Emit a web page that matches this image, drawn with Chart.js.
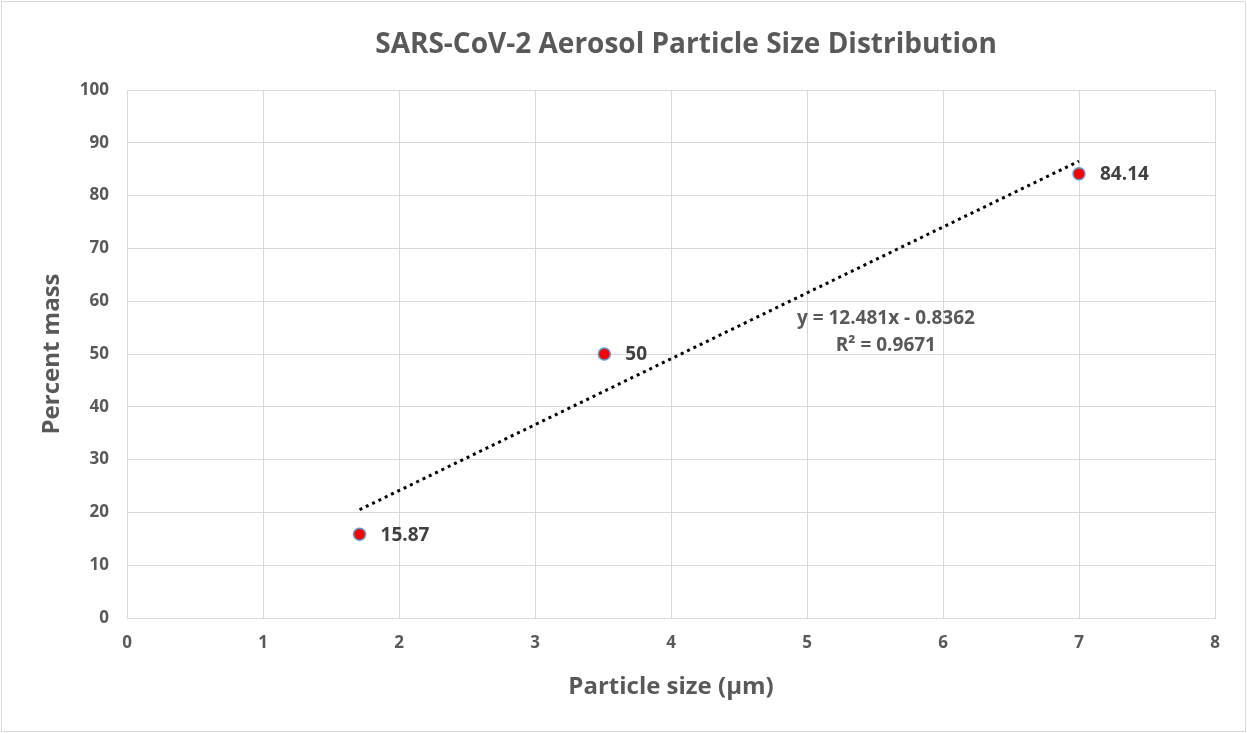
<!DOCTYPE html>
<html>
<head>
<meta charset="utf-8">
<script src="https://cdn.jsdelivr.net/npm/chart.js@4.4.1/dist/chart.umd.min.js"></script>
<style>
  html, body { margin: 0; padding: 0; background: #fff; }
  #wrap { width: 1247px; height: 733px; position: relative; }
</style>
</head>
<body>
<div id="wrap"><canvas id="chart"></canvas></div>
<script>
// data
const particleSize = [1.71, 3.51, 7.0];
const percentMass = [15.87, 50, 84.14];
const pointLabels = ["15.87", "50", "84.14"];
const xTicks = [0, 1, 2, 3, 4, 5, 6, 7, 8];
const yTicks = [0, 10, 20, 30, 40, 50, 60, 70, 80, 90, 100];
// linear trendline as printed on the chart
const trendSlope = 12.481;
const trendIntercept = -0.8362;
const trendText = ["y = 12.481x - 0.8362", "R\u00b2 = 0.9671"];
const chartTitle = "SARS-CoV-2 Aerosol Particle Size Distribution";

const fontFam = "'Open Sans', 'Liberation Sans', sans-serif";
const grey = "#595959";

const trendX = [particleSize[0], particleSize[particleSize.length - 1]];
const trendPts = trendX.map(function (x) {
    return { x: x, y: trendSlope * x + trendIntercept };
});

const extras = {
    id: "extras",
    beforeDraw: function (chart) {
        const ctx = chart.ctx;
        ctx.save();
        ctx.fillStyle = "#fff";
        ctx.fillRect(0, 0, chart.width, chart.height);
        ctx.strokeStyle = "#d9d9d9";
        ctx.lineWidth = 1;
        ctx.strokeRect(1.5, 1.5, chart.width - 3, chart.height - 3);
        // title, Excel puts it a bit right of the plot centre
        ctx.fillStyle = grey;
        ctx.font = "bold 28px " + fontFam;
        ctx.textAlign = "center";
        ctx.textBaseline = "middle";
        ctx.fillText(chartTitle, 686, 45);
        ctx.restore();
    },
    afterDatasetsDraw: function (chart) {
        const ctx = chart.ctx;
        const xs = chart.scales.x, ys = chart.scales.y;
        ctx.save();
        ctx.font = "bold 19px " + fontFam;
        ctx.fillStyle = "#404040";
        ctx.textBaseline = "middle";
        ctx.textAlign = "left";
        particleSize.forEach(function (x, i) {
            ctx.fillText(pointLabels[i], xs.getPixelForValue(x) + 21, ys.getPixelForValue(percentMass[i]) + 1);
        });
        // trendline equation box
        ctx.fillStyle = grey;
        ctx.font = "bold 19px " + fontFam;
        ctx.textAlign = "center";
        const cx = xs.getPixelForValue(5.58);
        const cy = ys.getPixelForValue(56.8);
        ctx.fillText(trendText[0], cx, cy);
        ctx.fillText(trendText[1], cx, cy + 27);
        ctx.restore();
    }
};

new Chart(document.getElementById("chart"), {
    type: "scatter",
    data: {
        datasets: [
            {
                label: "Percent mass",
                data: particleSize.map(function (x, i) { return { x: x, y: percentMass[i] }; }),
                backgroundColor: "#ff0000",
                borderColor: "#5b9bd5",
                borderWidth: 1.5,
                pointRadius: 6,
                pointHoverRadius: 6,
                order: 1
            },
            {
                type: "line",
                label: "Trend",
                data: trendPts,
                borderColor: "#000",
                borderWidth: 3,
                borderDash: [3, 4],
                pointRadius: 0,
                fill: false,
                order: 2
            }
        ]
    },
    options: {
        responsive: true,
        maintainAspectRatio: false,
        animation: false,
        layout: { padding: { left: 0, right: 32, top: 90, bottom: 0 } },
        scales: {
            x: {
                type: "linear",
                min: 0,
                max: 8,
                afterBuildTicks: function (s) { s.ticks = xTicks.map(function (v) { return { value: v }; }); },
                afterFit: function (s) { s.height = 115; },
                grid: { color: "#d9d9d9", lineWidth: 1, drawTicks: false },
                border: { color: "#d9d9d9" },
                ticks: { color: grey, font: { family: fontFam, size: 17, weight: "bold" }, padding: 15 },
                title: {
                    display: true,
                    text: "Particle size (\u03bcm)",
                    color: grey,
                    font: { family: fontFam, size: 24, weight: "bold", lineHeight: 1.2 },
                    padding: { top: 10, bottom: 31 }
                }
            },
            y: {
                min: 0,
                max: 100,
                afterBuildTicks: function (s) { s.ticks = yTicks.map(function (v) { return { value: v }; }); },
                afterFit: function (s) { s.width = 127; },
                grid: { color: "#d9d9d9", lineWidth: 1, drawTicks: false },
                border: { color: "#d9d9d9" },
                ticks: { color: grey, font: { family: fontFam, size: 17, weight: "bold" }, padding: 18 },
                title: {
                    display: true,
                    text: "Percent mass",
                    color: grey,
                    font: { family: fontFam, size: 24, weight: "bold", lineHeight: 1.2 },
                    padding: { top: 38, bottom: 10 }
                }
            }
        },
        plugins: {
            legend: { display: false },
            tooltip: { enabled: false },
            title: { display: false }
        }
    },
    plugins: [extras]
});
</script>
</body>
</html>
